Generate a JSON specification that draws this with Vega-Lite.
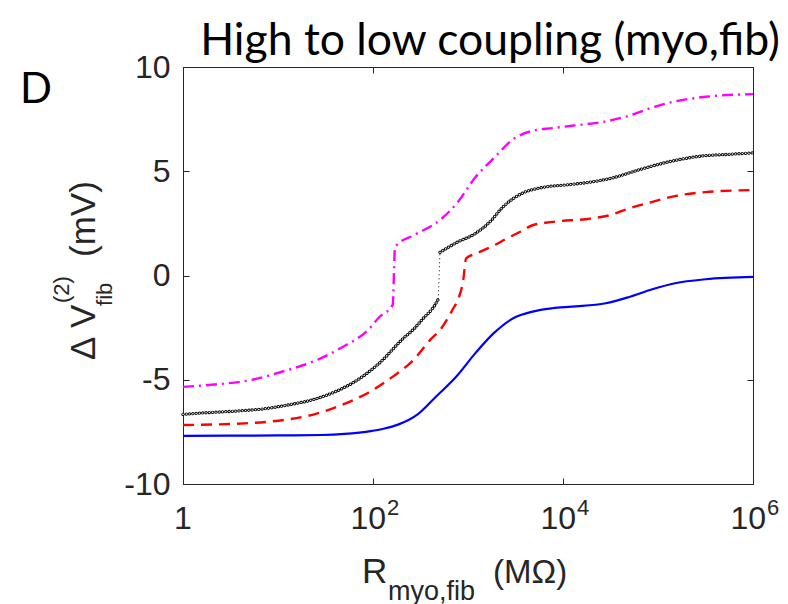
{
  "$schema": "https://vega.github.io/schema/vega-lite/v6.json",
  "width": 570,
  "height": 417,
  "autosize": {"type": "none"},
  "padding": {"left": 183, "top": 67, "right": 35, "bottom": 120},
  "background": "white",
  "config": {
    "view": {"stroke": "#262626", "strokeWidth": 1},
    "axis": {"grid": false, "domainColor": "#262626", "tickColor": "#262626", "labelColor": "#262626", "labelFont": "Liberation Sans", "labelFontSize": 32, "labelFlush": false, "labelOverlap": false, "labelBound": false}
  },
  "datasets": {
    "curves": [
      {"s": "b", "r": 1, "v": -7.69}, {"s": "b", "r": 3.162, "v": -7.68}, {"s": "b", "r": 10, "v": -7.67}, {"s": "b", "r": 28.84, "v": -7.65}, {"s": "b", "r": 50.12, "v": -7.6}, {"s": "b", "r": 97.72, "v": -7.45}, {"s": "b", "r": 128.8, "v": -7.35}, {"s": "b", "r": 186.2, "v": -7.14}, {"s": "b", "r": 295.1, "v": -6.66}, {"s": "b", "r": 467.7, "v": -5.78}, {"s": "b", "r": 758.6, "v": -4.83}, {"s": "b", "r": 1202, "v": -3.71}, {"s": "b", "r": 1905, "v": -2.73}, {"s": "b", "r": 3020, "v": -2.04}, {"s": "b", "r": 4786, "v": -1.73}, {"s": "b", "r": 7762, "v": -1.57}, {"s": "b", "r": 12303, "v": -1.49}, {"s": "b", "r": 28184, "v": -1.33}, {"s": "b", "r": 48978, "v": -1.04}, {"s": "b", "r": 87096, "v": -0.66}, {"s": "b", "r": 151356, "v": -0.37}, {"s": "b", "r": 316228, "v": -0.18}, {"s": "b", "r": 1000000, "v": -0.07},
      {"s": "r", "r": 1, "v": -7.17}, {"s": "r", "r": 4.467, "v": -7.09}, {"s": "r", "r": 11.48, "v": -6.93}, {"s": "r", "r": 23.99, "v": -6.66}, {"s": "r", "r": 45.71, "v": -6.23}, {"s": "r", "r": 89.13, "v": -5.62}, {"s": "r", "r": 154.9, "v": -4.91}, {"s": "r", "r": 269.2, "v": -4.03}, {"s": "r", "r": 398.1, "v": -3.1}, {"s": "r", "r": 524.8, "v": -2.53}, {"s": "r", "r": 691.8, "v": -1.62}, {"s": "r", "r": 794.3, "v": -1.1}, {"s": "r", "r": 891.3, "v": -0.22}, {"s": "r", "r": 955, "v": 0.82}, {"s": "r", "r": 1230, "v": 1.06}, {"s": "r", "r": 1905, "v": 1.46}, {"s": "r", "r": 2570, "v": 1.78}, {"s": "r", "r": 3548, "v": 2.1}, {"s": "r", "r": 4786, "v": 2.41}, {"s": "r", "r": 7762, "v": 2.57}, {"s": "r", "r": 19498, "v": 2.73}, {"s": "r", "r": 30903, "v": 2.89}, {"s": "r", "r": 48978, "v": 3.21}, {"s": "r", "r": 87096, "v": 3.53}, {"s": "r", "r": 151356, "v": 3.81}, {"s": "r", "r": 316228, "v": 4.0}, {"s": "r", "r": 1000000, "v": 4.1},
      {"s": "m", "r": 1, "v": -5.34}, {"s": "m", "r": 2.138, "v": -5.23}, {"s": "m", "r": 5.495, "v": -4.99}, {"s": "m", "r": 11.48, "v": -4.59}, {"s": "m", "r": 23.99, "v": -4.11}, {"s": "m", "r": 45.71, "v": -3.48}, {"s": "m", "r": 89.13, "v": -2.6}, {"s": "m", "r": 117.5, "v": -1.98}, {"s": "m", "r": 161.1, "v": -1.41}, {"s": "m", "r": 170.6, "v": 1.35}, {"s": "m", "r": 177.8, "v": 1.46}, {"s": "m", "r": 269.2, "v": 1.93}, {"s": "m", "r": 507, "v": 2.66}, {"s": "m", "r": 758.6, "v": 3.45}, {"s": "m", "r": 1202, "v": 4.72}, {"s": "m", "r": 1905, "v": 5.67}, {"s": "m", "r": 3020, "v": 6.55}, {"s": "m", "r": 4786, "v": 6.94}, {"s": "m", "r": 7762, "v": 7.07}, {"s": "m", "r": 12303, "v": 7.18}, {"s": "m", "r": 28184, "v": 7.39}, {"s": "m", "r": 48978, "v": 7.66}, {"s": "m", "r": 87096, "v": 8.06}, {"s": "m", "r": 151356, "v": 8.35}, {"s": "m", "r": 316228, "v": 8.57}, {"s": "m", "r": 1000000, "v": 8.7},
      {"s": "k", "seg": "a", "r": 1, "v": -6.66}, {"s": "k", "seg": "a", "r": 1.778, "v": -6.58}, {"s": "k", "seg": "a", "r": 3.715, "v": -6.5}, {"s": "k", "seg": "a", "r": 7.244, "v": -6.39}, {"s": "k", "seg": "a", "r": 13.8, "v": -6.18}, {"s": "k", "seg": "a", "r": 23.99, "v": -5.94}, {"s": "k", "seg": "a", "r": 41.69, "v": -5.54}, {"s": "k", "seg": "a", "r": 74.13, "v": -4.91}, {"s": "k", "seg": "a", "r": 117.5, "v": -4.19}, {"s": "k", "seg": "a", "r": 208.9, "v": -3.01}, {"s": "k", "seg": "a", "r": 263, "v": -2.61}, {"s": "k", "seg": "a", "r": 338.8, "v": -2.05}, {"s": "k", "seg": "a", "r": 431.5, "v": -1.53}, {"s": "k", "seg": "a", "r": 486.4, "v": -1.14},
      {"s": "k", "seg": "b", "r": 507, "v": 1.11}, {"s": "k", "seg": "b", "r": 758.6, "v": 1.58}, {"s": "k", "seg": "b", "r": 1202, "v": 2.02}, {"s": "k", "seg": "b", "r": 1738, "v": 2.62}, {"s": "k", "seg": "b", "r": 2291, "v": 3.25}, {"s": "k", "seg": "b", "r": 3631, "v": 3.92}, {"s": "k", "seg": "b", "r": 5888, "v": 4.21}, {"s": "k", "seg": "b", "r": 11220, "v": 4.35}, {"s": "k", "seg": "b", "r": 19498, "v": 4.48}, {"s": "k", "seg": "b", "r": 33884, "v": 4.69}, {"s": "k", "seg": "b", "r": 60256, "v": 5.04}, {"s": "k", "seg": "b", "r": 104713, "v": 5.35}, {"s": "k", "seg": "b", "r": 181970, "v": 5.59}, {"s": "k", "seg": "b", "r": 316228, "v": 5.75}, {"s": "k", "seg": "b", "r": 501187, "v": 5.8}, {"s": "k", "seg": "b", "r": 1000000, "v": 5.88},
      {"s": "kc", "r": 486.4, "v": -1.14}, {"s": "kc", "r": 507, "v": 1.11}
    ],
    "xticks": [
      {"tick": 1, "base": "1", "exp": ""}, {"tick": 100, "base": "10", "exp": "2"}, {"tick": 10000, "base": "10", "exp": "4"}, {"tick": 1000000, "base": "10", "exp": "6"}
    ],
    "labels": [
      {"id": "title", "t": "High to low coupling (myo,fib)"},
      {"id": "D", "t": "D"}, {"id": "delta", "t": "Δ"}, {"id": "V", "t": "V"}, {"id": "sup", "t": "(2)"}, {"id": "sub", "t": "fib"}, {"id": "mV", "t": "(mV)"},
      {"id": "R", "t": "R"}, {"id": "rsub", "t": "myo,fib"}, {"id": "MO", "t": "(MΩ)"}
    ]
  },
  "layer": [
    {
      "data": {"name": "curves"},
      "transform": [{"filter": "datum.s == 'b'"}],
      "mark": {"type": "line", "color": "#0000ff", "strokeWidth": 2.2, "interpolate": "monotone"},
      "encoding": {
        "x": {"field": "r", "type": "quantitative", "scale": {"type": "log", "domain": [1, 1000000], "nice": false},
          "axis": {"orient": "bottom", "values": [1, 100, 10000, 1000000], "labels": false, "title": null, "tickSize": -6}},
        "y": {"field": "v", "type": "quantitative", "scale": {"domain": [-10, 10], "nice": false, "zero": false},
          "axis": {"orient": "left", "values": [-10, -5, 0, 5, 10], "labelExpr": "'' + datum.value", "title": null, "tickSize": -6, "labelPadding": 19}}
      }
    },
    {
      "data": {"name": "curves"},
      "transform": [{"filter": "datum.s == 'r'"}],
      "mark": {"type": "line", "color": "#ff0000", "strokeWidth": 2.4, "strokeDash": [11, 7], "interpolate": "monotone"},
      "encoding": {
        "x": {"field": "r", "type": "quantitative", "scale": {"type": "log", "domain": [1, 1000000], "nice": false},
          "axis": {"orient": "top", "values": [1, 100, 10000, 1000000], "labels": false, "domain": false, "title": null, "tickSize": -6}},
        "y": {"field": "v", "type": "quantitative", "scale": {"domain": [-10, 10], "nice": false, "zero": false},
          "axis": {"orient": "right", "values": [-10, -5, 0, 5, 10], "labels": false, "domain": false, "title": null, "tickSize": -6}}
      }
    },
    {
      "data": {"name": "curves"},
      "transform": [{"filter": "datum.s == 'm'"}],
      "mark": {"type": "line", "color": "#ff00ff", "strokeWidth": 2.4, "strokeDash": [11, 5, 2, 5], "interpolate": "monotone"},
      "encoding": {
        "x": {"field": "r", "type": "quantitative", "scale": {"type": "log", "domain": [1, 1000000], "nice": false}, "axis": null},
        "y": {"field": "v", "type": "quantitative", "scale": {"domain": [-10, 10], "nice": false, "zero": false}, "axis": null}
      }
    },
    {
      "data": {"name": "curves"},
      "transform": [{"filter": "datum.s == 'kc'"}],
      "mark": {"type": "line", "color": "black", "strokeWidth": 1, "strokeDash": [1, 3]},
      "encoding": {
        "x": {"field": "r", "type": "quantitative", "scale": {"type": "log", "domain": [1, 1000000], "nice": false}, "axis": null},
        "y": {"field": "v", "type": "quantitative", "scale": {"domain": [-10, 10], "nice": false, "zero": false}, "axis": null}
      }
    },
    {
      "data": {"name": "curves"},
      "transform": [{"filter": "datum.s == 'k'"}],
      "mark": {"type": "line", "color": "black", "strokeWidth": 3.3, "strokeDash": [0.001, 3.3], "strokeCap": "round", "interpolate": "monotone"},
      "encoding": {
        "x": {"field": "r", "type": "quantitative", "scale": {"type": "log", "domain": [1, 1000000], "nice": false}, "axis": null},
        "y": {"field": "v", "type": "quantitative", "scale": {"domain": [-10, 10], "nice": false, "zero": false}, "axis": null},
        "detail": {"field": "seg"}
      }
    },
    {
      "data": {"name": "curves"},
      "transform": [{"filter": "datum.s == 'k'"}],
      "mark": {"type": "line", "color": "white", "strokeWidth": 1.5, "strokeDash": [0.001, 3.3], "strokeCap": "round", "interpolate": "monotone"},
      "encoding": {
        "x": {"field": "r", "type": "quantitative", "scale": {"type": "log", "domain": [1, 1000000], "nice": false}, "axis": null},
        "y": {"field": "v", "type": "quantitative", "scale": {"domain": [-10, 10], "nice": false, "zero": false}, "axis": null},
        "detail": {"field": "seg"}
      }
    },
    {
      "data": {"name": "xticks"},
      "transform": [{"filter": "datum.tick == 1"}],
      "mark": {"type": "text", "font": "Liberation Sans", "fontSize": 32, "align": "center", "baseline": "alphabetic", "dy": 45, "color": "#262626"},
      "encoding": {
        "x": {"field": "tick", "type": "quantitative", "scale": {"type": "log", "domain": [1, 1000000], "nice": false}, "axis": null},
        "y": {"datum": -10, "type": "quantitative", "scale": {"domain": [-10, 10], "nice": false, "zero": false}, "axis": null},
        "text": {"field": "base"}
      }
    },
    {
      "data": {"name": "xticks"},
      "transform": [{"filter": "datum.tick > 1"}],
      "mark": {"type": "text", "font": "Liberation Sans", "fontSize": 32, "align": "right", "baseline": "alphabetic", "dx": 13, "dy": 45, "color": "#262626"},
      "encoding": {
        "x": {"field": "tick", "type": "quantitative", "scale": {"type": "log", "domain": [1, 1000000], "nice": false}, "axis": null},
        "y": {"datum": -10, "type": "quantitative", "scale": {"domain": [-10, 10], "nice": false, "zero": false}, "axis": null},
        "text": {"field": "base"}
      }
    },
    {
      "data": {"name": "xticks"},
      "transform": [{"filter": "datum.tick > 1"}],
      "mark": {"type": "text", "font": "Liberation Sans", "fontSize": 22, "align": "left", "baseline": "alphabetic", "dx": 14, "dy": 31, "color": "#262626"},
      "encoding": {
        "x": {"field": "tick", "type": "quantitative", "scale": {"type": "log", "domain": [1, 1000000], "nice": false}, "axis": null},
        "y": {"datum": -10, "type": "quantitative", "scale": {"domain": [-10, 10], "nice": false, "zero": false}, "axis": null},
        "text": {"field": "exp"}
      }
    },
    {
      "data": {"name": "labels"},
      "transform": [{"filter": "datum.id == 'title'"}],
      "mark": {"type": "text", "font": "Lato", "fontSize": 44.5, "align": "center", "baseline": "alphabetic", "color": "black"},
      "encoding": {
        "x": {"datum": 1704.5, "type": "quantitative", "scale": {"type": "log", "domain": [1, 1000000], "nice": false}, "axis": null},
        "y": {"datum": 10.576, "type": "quantitative", "scale": {"domain": [-10, 10], "nice": false, "zero": false}, "axis": null},
        "text": {"field": "t"}
      }
    },
    {
      "data": {"name": "labels"},
      "transform": [{"filter": "datum.id == 'D'"}],
      "mark": {"type": "text", "font": "Lato", "fontSize": 42, "align": "left", "baseline": "alphabetic", "color": "black"},
      "encoding": {
        "x": {"datum": 0.01924, "type": "quantitative", "scale": {"type": "log", "domain": [1, 1000000], "nice": false}, "axis": null},
        "y": {"datum": 8.27, "type": "quantitative", "scale": {"domain": [-10, 10], "nice": false, "zero": false}, "axis": null},
        "text": {"field": "t"}
      }
    },
    {
      "data": {"name": "labels"},
      "transform": [{"filter": "datum.id == 'delta'"}],
      "mark": {"type": "text", "font": "Liberation Sans", "fontSize": 35, "align": "left", "baseline": "alphabetic", "angle": 270, "color": "#262626"},
      "encoding": {
        "x": {"datum": 0.1185, "type": "quantitative", "scale": {"type": "log", "domain": [1, 1000000], "nice": false}, "axis": null},
        "y": {"datum": -4.05, "type": "quantitative", "scale": {"domain": [-10, 10], "nice": false, "zero": false}, "axis": null},
        "text": {"field": "t"}
      }
    },
    {
      "data": {"name": "labels"},
      "transform": [{"filter": "datum.id == 'V'"}],
      "mark": {"type": "text", "font": "Liberation Sans", "fontSize": 35, "align": "left", "baseline": "alphabetic", "angle": 270, "color": "#262626"},
      "encoding": {
        "x": {"datum": 0.1185, "type": "quantitative", "scale": {"type": "log", "domain": [1, 1000000], "nice": false}, "axis": null},
        "y": {"datum": -2.52, "type": "quantitative", "scale": {"domain": [-10, 10], "nice": false, "zero": false}, "axis": null},
        "text": {"field": "t"}
      }
    },
    {
      "data": {"name": "labels"},
      "transform": [{"filter": "datum.id == 'sup'"}],
      "mark": {"type": "text", "font": "Liberation Sans", "fontSize": 22, "align": "left", "baseline": "alphabetic", "angle": 270, "color": "#262626"},
      "encoding": {
        "x": {"datum": 0.0631, "type": "quantitative", "scale": {"type": "log", "domain": [1, 1000000], "nice": false}, "axis": null},
        "y": {"datum": -1.32, "type": "quantitative", "scale": {"domain": [-10, 10], "nice": false, "zero": false}, "axis": null},
        "text": {"field": "t"}
      }
    },
    {
      "data": {"name": "labels"},
      "transform": [{"filter": "datum.id == 'sub'"}],
      "mark": {"type": "text", "font": "Liberation Sans", "fontSize": 22, "align": "left", "baseline": "alphabetic", "angle": 270, "color": "#262626"},
      "encoding": {
        "x": {"datum": 0.1789, "type": "quantitative", "scale": {"type": "log", "domain": [1, 1000000], "nice": false}, "axis": null},
        "y": {"datum": -1.46, "type": "quantitative", "scale": {"domain": [-10, 10], "nice": false, "zero": false}, "axis": null},
        "text": {"field": "t"}
      }
    },
    {
      "data": {"name": "labels"},
      "transform": [{"filter": "datum.id == 'mV'"}],
      "mark": {"type": "text", "font": "Liberation Sans", "fontSize": 35, "align": "left", "baseline": "alphabetic", "angle": 270, "color": "#262626"},
      "encoding": {
        "x": {"datum": 0.1185, "type": "quantitative", "scale": {"type": "log", "domain": [1, 1000000], "nice": false}, "axis": null},
        "y": {"datum": 0.887, "type": "quantitative", "scale": {"domain": [-10, 10], "nice": false, "zero": false}, "axis": null},
        "text": {"field": "t"}
      }
    },
    {
      "data": {"name": "labels"},
      "transform": [{"filter": "datum.id == 'R'"}],
      "mark": {"type": "text", "font": "Liberation Sans", "fontSize": 35, "align": "left", "baseline": "alphabetic", "color": "#262626"},
      "encoding": {
        "x": {"datum": 76.6, "type": "quantitative", "scale": {"type": "log", "domain": [1, 1000000], "nice": false}, "axis": null},
        "y": {"datum": -14.75, "type": "quantitative", "scale": {"domain": [-10, 10], "nice": false, "zero": false}, "axis": null},
        "text": {"field": "t"}
      }
    },
    {
      "data": {"name": "labels"},
      "transform": [{"filter": "datum.id == 'rsub'"}],
      "mark": {"type": "text", "font": "Liberation Sans", "fontSize": 27, "align": "left", "baseline": "alphabetic", "color": "#262626"},
      "encoding": {
        "x": {"datum": 143.9, "type": "quantitative", "scale": {"type": "log", "domain": [1, 1000000], "nice": false}, "axis": null},
        "y": {"datum": -15.56, "type": "quantitative", "scale": {"domain": [-10, 10], "nice": false, "zero": false}, "axis": null},
        "text": {"field": "t"}
      }
    },
    {
      "data": {"name": "labels"},
      "transform": [{"filter": "datum.id == 'MO'"}],
      "mark": {"type": "text", "font": "Liberation Sans", "fontSize": 33, "align": "left", "baseline": "alphabetic", "color": "#262626"},
      "encoding": {
        "x": {"datum": 1832.6, "type": "quantitative", "scale": {"type": "log", "domain": [1, 1000000], "nice": false}, "axis": null},
        "y": {"datum": -14.75, "type": "quantitative", "scale": {"domain": [-10, 10], "nice": false, "zero": false}, "axis": null},
        "text": {"field": "t"}
      }
    }
  ],
  "resolve": {"axis": {"x": "independent", "y": "independent"}}
}
